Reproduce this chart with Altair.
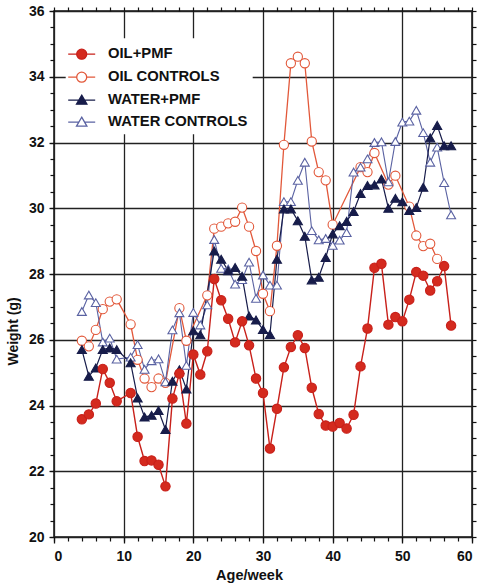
import altair as alt
import pandas as pd

weeks = [4, 5, 6, 7, 8, 9, 11, 12, 13, 14, 15, 16, 17, 18, 19, 20, 21, 22, 23, 24, 25, 26, 27, 28, 29, 30,
         31, 32, 33, 34, 35, 36, 37, 38, 39, 40, 41, 42, 43, 44, 45, 46, 47, 48, 49, 50, 51, 52, 53, 54, 55, 56, 57]

oil_pmf = [23.58, 23.73, 24.06, 25.11, 24.69, 24.13, 24.38, 23.05, 22.31, 22.33, 22.2, 21.54, 24.21, 24.97,
           23.45, 25.55, 24.94, 25.65, 27.85, 27.2, 26.64, 25.92, 26.56, 25.83, 24.82, 24.38, 22.69, 23.9,
           25.16, 25.78, 26.14, 25.75, 24.54, 23.74, 23.39, 23.36, 23.47, 23.3, 23.72, 25.19, 26.34, 28.19,
           28.31, 26.46, 26.69, 26.56, 27.22, 28.06, 27.95, 27.5, 27.78, 28.24, 26.43]

oil_controls = [25.97, 25.8, 26.3, 26.93, 27.16, 27.23, 26.47, 25.39, 24.82, 24.56, 24.82, 24.69, None, 26.96,
                25.97, None, None, 27.35, 29.38, 29.44, 29.54, 29.59, 30.02, 29.44, 28.7, 27.4, 26.87, 28.86,
                31.93, 34.41, 34.61, 34.41, 32.03, 31.1, 30.85, 29.5, None, None, None, 31.25, 31.1, 31.68,
                None, 30.72, 30.99, None, 30.05, 29.17, 28.85, 28.92, 28.46, None, None]

water_pmf = [25.7, 24.89, 25.14, 25.7, 25.75, 25.7, 25.3, 24.23, 23.65, 23.7, 23.85, 23.27, 24.74, 25.09,
             24.5, 26.27, 26.15, None, 28.7, 28.45, 28.1, 28.2, 27.93, 26.72, 26.6, 26.31, 26.16, 28.45,
             29.98, 29.98, 29.62, 29.15, 27.82, 27.9, 28.5, 29.22, 29.47, 29.6, 29.9, 30.45, 30.69, 30.71,
             30.89, 30.0, 30.3, 30.2, 29.93, 30.02, 30.64, 32.14, 32.52, 31.9, 31.9]

water_controls = [26.86, 27.36, 27.13, 25.93, 26.05, 25.41, 25.47, 25.85, 25.1, 25.36, 25.42, 24.72, 26.3, 26.82,
                  25.22, 26.83, 26.45, 27.06, 29.05, 28.17, 28.15, 27.69, 27.83, 28.36, 27.26, 27.97, 27.66,
                  27.66, 30.2, 30.2, 30.85, 31.4, 29.32, 29.04, 29.08, 28.87, 29.03, 29.26, 31.1, 31.25, 31.5,
                  32.0, 32.02, 30.8, 32.03, 32.62, 32.65, 32.98, 32.3, 31.4, 31.86, 30.78, 29.8]

series_names = ["OIL+PMF", "OIL CONTROLS", "WATER+PMF", "WATER CONTROLS"]
stroke_colors = ["#c8201a", "#e2583a", "#171c4a", "#5a62a2"]
fill_colors = ["#d42a1e", "#ffffff", "#171c4a", "#ffffff"]
marker_shapes = ["circle", "circle", "triangle-up", "triangle-up"]
marker_sizes = [88, 80, 72, 72]
line_widths = [1.4, 1.1, 1.4, 1.1]

circle_path = "M-1.35,0L-0.5,0M0.5,0L1.35,0M0.5,0A0.5,0.5,0,1,1,-0.5,0A0.5,0.5,0,1,1,0.5,0Z"
tri_path = "M-1.35,0L-0.3,0M0.3,0L1.35,0M0,-0.5L0.52,0.4L-0.52,0.4Z"
legend_paths = [circle_path, circle_path, tri_path, tri_path]

values_by_series = {
    "OIL+PMF": oil_pmf,
    "OIL CONTROLS": oil_controls,
    "WATER+PMF": water_pmf,
    "WATER CONTROLS": water_controls,
}
draw_order = ["OIL CONTROLS", "WATER CONTROLS", "WATER+PMF", "OIL+PMF"]

rows = []
for name in draw_order:
    for w, v in zip(weeks, values_by_series[name]):
        if v is not None:
            rows.append({"series": name, "week": w, "weight": v})
df = pd.DataFrame(rows)

FONT = "Liberation Sans"
W, H = 418, 526

xs = alt.Scale(domain=[0, 60], nice=False, zero=False)
ys = alt.Scale(domain=[20, 36], nice=False, zero=False)

color_main = alt.Color("series:N", scale=alt.Scale(domain=series_names, range=stroke_colors), legend=None)

axis_common = dict(labelFont=FONT, labelFontSize=14, labelFontWeight="bold", labelColor="#111",
                   titleFont=FONT, titleFontWeight="bold", titleColor="#111", domain=False,
                   tickColor="#111", tickWidth=1.3, gridColor="#222", gridWidth=1.3, gridOpacity=1)

x_main = alt.X("week:Q", scale=xs, axis=alt.Axis(
    orient="bottom", values=list(range(0, 61, 10)), grid=True, tickSize=6, labelPadding=6,
    title="Age/week", titleFontSize=14.5, titleX=195, titleY=31, titleBaseline="top", **axis_common))
y_main = alt.Y("weight:Q", scale=ys, axis=alt.Axis(
    orient="left", values=list(range(20, 37, 2)), grid=True, tickSize=5, labelPadding=5,
    title="Weight (g)", titleFontSize=14, titleX=-34, titleY=320, **axis_common))

lines = alt.Chart(df).mark_line().encode(
    x=x_main, y=y_main, color=color_main,
    strokeWidth=alt.StrokeWidth("series:N", scale=alt.Scale(domain=series_names, range=line_widths), legend=None),
    detail="series:N",
)

minor_x = list(range(0, 61, 2))
minor_y = [20 + 0.5 * i for i in range(33)]

points = alt.Chart(df).mark_point(opacity=1, strokeWidth=1.1).encode(
    x=alt.X("week:Q", scale=xs, axis=alt.Axis(orient="top", values=minor_x, tickSize=4, labels=False,
                                               grid=False, title=None, domain=False, tickColor="#111", tickWidth=1.2)),
    y=alt.Y("weight:Q", scale=ys, axis=alt.Axis(orient="right", values=minor_y, tickSize=4, labels=False,
                                                 grid=False, title=None, domain=False, tickColor="#111", tickWidth=1.2)),
    color=color_main,
    fill=alt.Fill("series:N", scale=alt.Scale(domain=series_names, range=fill_colors), legend=None),
    shape=alt.Shape("series:N", scale=alt.Scale(domain=series_names, range=marker_shapes), legend=None),
    size=alt.Size("series:N", scale=alt.Scale(domain=series_names, range=marker_sizes), legend=None),
)

main = alt.layer(lines, points)

legend_df = pd.DataFrame({"series": series_names, "week": [0, 0, 0, 0], "weight": [20, 20, 20, 20]})
lg = dict(title=None)
legend_layer = alt.Chart(legend_df).transform_filter("false").mark_point(opacity=1, strokeWidth=1.3).encode(
    x=alt.X("week:Q", scale=xs, axis=alt.Axis(orient="bottom", values=minor_x, tickSize=4, labels=False,
                                               grid=False, title=None, domain=False, tickColor="#111", tickWidth=1.2)),
    y=alt.Y("weight:Q", scale=ys, axis=alt.Axis(orient="left", values=minor_y, tickSize=4, labels=False,
                                                 grid=False, title=None, domain=False, tickColor="#111", tickWidth=1.2)),
    color=alt.Color("series:N", scale=alt.Scale(domain=series_names, range=stroke_colors), legend=alt.Legend(**lg)),
    fill=alt.Fill("series:N", scale=alt.Scale(domain=series_names, range=fill_colors), legend=alt.Legend(**lg)),
    shape=alt.Shape("series:N", scale=alt.Scale(domain=series_names, range=legend_paths), legend=alt.Legend(**lg)),
)

chart = alt.layer(main, legend_layer).resolve_scale(
    color="independent", fill="independent", shape="independent"
).resolve_axis(x="independent", y="independent").properties(
    width=W, height=H,
    padding={"left": 54, "top": 11, "right": 6, "bottom": 51},
    autosize=alt.AutoSizeParams(type="none"),
    background="white",
).configure_view(stroke="#111", strokeWidth=1.5).configure_legend(
    orient="none", legendX=11.7, legendY=27.2, padding=5, fillColor="white",
    labelFont=FONT, labelFontSize=14.8, labelFontWeight="bold", labelColor="#111",
    symbolSize=400, symbolStrokeWidth=1.3, labelOffset=15.3, rowPadding=4.0,
)

chart.save("out.html", embed_options={"renderer": "svg", "actions": False})
